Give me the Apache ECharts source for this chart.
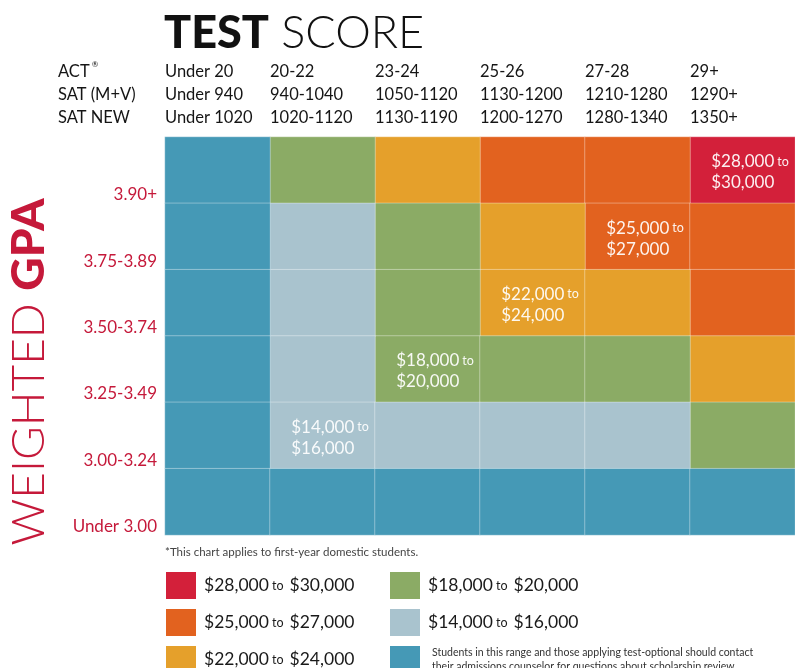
<!DOCTYPE html>
<html><head><meta charset="utf-8">
<script src="https://cdn.jsdelivr.net/npm/echarts@6/dist/echarts.min.js"></script>
<style>html,body{margin:0;padding:0;background:#fff}#c{width:795px;height:668px}</style>
</head><body><div id="c"></div>
<script>
const actScores = ['Under 20','20-22','23-24','25-26','27-28','29+'];
const satMV = ['Under 940','940-1040','1050-1120','1130-1200','1210-1280','1290+'];
const satNew = ['Under 1020','1020-1120','1130-1190','1200-1270','1280-1340','1350+'];
const gpaBands = ['3.90+','3.75-3.89','3.50-3.74','3.25-3.49','3.00-3.24','Under 3.00'];
const tierNames = ['$28,000 to $30,000','$25,000 to $27,000','$22,000 to $24,000','$18,000 to $20,000','$14,000 to $16,000',
  'Students in this range and those applying test-optional should contact their admissions counselor for questions about scholarship review.'];
const tierColors = ['#d3203a','#e2621f','#e5a02b','#8bab65','#a9c3ce','#4599b6'];
// tier index per cell, rows top (3.90+) to bottom, columns left to right
const tierGrid = [
  [5,3,2,1,1,0],
  [5,4,3,2,1,1],
  [5,4,3,2,2,1],
  [5,4,3,3,3,2],
  [5,4,4,4,4,3],
  [5,5,5,5,5,5]
];
const labelCells = [[5,0],[4,1],[3,2],[2,3],[1,4]]; // [col,row]
const footnote = '*This chart applies to first-year domestic students.';

const RED = '#c5193a';
const FONT = 'Lato, "Open Sans", sans-serif';

function isLabeled(c, r){ return labelCells.some(p => p[0]===c && p[1]===r); }

const series = tierNames.map((name, t) => {
  const data = [];
  tierGrid.forEach((row, r) => row.forEach((tier, c) => {
    if (tier === t) {
      const item = {value: [c, r, t]};
      if (isLabeled(c, r)) item.label = {show: true};
      data.push(item);
    }
  }));
  return {
    type: 'heatmap', name, xAxisIndex: 0, yAxisIndex: 0, data,
    itemStyle: {color: tierColors[t], borderColor: 'rgba(255,255,255,0.35)', borderWidth: 1},
    emphasis: {disabled: true},
    label: {
      show: false, position: 'insideTopLeft', distance: 0, offset: [22, 15],
      color: 'rgba(255,255,255,0.93)', fontFamily: FONT, lineHeight: 21,
      formatter: p => {
        const parts = tierNames[p.value[2]].split(' to ');
        return '{a|' + parts[0] + '} {b|to}\n{a|' + parts[1] + '}';
      },
      rich: {a: {fontSize: 17, fontFamily: FONT, color: 'rgba(255,255,255,0.93)', lineHeight: 21},
             b: {fontSize: 12.5, fontFamily: FONT, color: 'rgba(255,255,255,0.93)', lineHeight: 21}}
    }
  };
});

function legendFmt(name){
  if (name.indexOf('Students') === 0) {
    return '{s|Students in this range and those applying test-optional should contact}\n{s|their admissions counselor for questions about scholarship review.}';
  }
  const parts = name.split(' to ');
  return '{a|' + parts[0] + '} {b|to} {a|' + parts[1] + '}';
}
const legendRich = {
  a: {fontSize: 17.5, fontFamily: FONT, color: '#1a1a1a', padding: [0,0,0,3]},
  b: {fontSize: 12.5, fontFamily: FONT, color: '#1a1a1a'},
  s: {fontSize: 10.5, fontFamily: FONT, color: '#333', lineHeight: 14, padding: [0,0,0,7]}
};
const legendBase = {
  orient: 'vertical', icon: 'rect', itemWidth: 30, itemHeight: 27, itemGap: 10,
  top: 572, height: 200, padding: 0, selectedMode: false, formatter: legendFmt,
  itemStyle: {borderWidth: 0},
  textStyle: {rich: legendRich, fontFamily: FONT}
};

const option = {
  animation: false,
  backgroundColor: '#fff',
  grid: {left: 165, top: 137, bottom: 133, right: -7},
  xAxis: [
    {type: 'category', data: actScores, show: false},
    {type: 'value', min: 0, max: 6, interval: 1, position: 'top',
     axisLine: {show: false}, axisTick: {show: false}, splitLine: {show: false},
     axisLabel: {align: 'left', margin: 8, lineHeight: 23, fontSize: 16.5, fontFamily: FONT, color: '#151515',
       showMaxLabel: false,
       formatter: v => v < 6 ? (actScores[v] + '\n' + satMV[v] + '\n' + satNew[v]) : ''}}
  ],
  yAxis: [
    {type: 'category', data: gpaBands, inverse: true, show: false},
    {type: 'value', min: 0, max: 6, interval: 1, position: 'left',
     axisLine: {show: false}, axisTick: {show: false}, splitLine: {show: false},
     axisLabel: {margin: 8, fontSize: 17, fontFamily: FONT, color: RED, verticalAlign: 'bottom',
       lineHeight: 17, padding: [0,0,0,0], showMaxLabel: false,
       formatter: v => v < 6 ? gpaBands[5 - v] : ''}}
  ],
  legend: [
    Object.assign({}, legendBase, {left: 166, data: tierNames.slice(0, 3)}),
    Object.assign({}, legendBase, {left: 390, data: tierNames.slice(3)})
  ],
  graphic: [
    {type: 'text', left: 164, top: 11, style: {
      text: '{b|TEST}{l| SCORE}', fill: '#111',
      rich: {b: {fontSize: 45, fontWeight: 900, fontFamily: FONT, fill: '#111'},
             l: {fontSize: 45, fontWeight: 300, fontFamily: FONT, fill: '#111'}}}},
    {type: 'text', left: 58, top: 60, style: {
      text: '{h|ACT}{r|®}\n{h|SAT (M+V)}\n{h|SAT NEW}',
      rich: {h: {fontSize: 16.5, fontFamily: FONT, fill: '#151515', lineHeight: 23},
             r: {fontSize: 8, fontFamily: FONT, fill: '#151515', lineHeight: 23, verticalAlign: 'top', padding: [0,0,8,2]}}}},
    {type: 'text', x: 29, y: 372, rotation: Math.PI / 2, style: {
      text: '{l|WEIGHTED }{b|GPA}', align: 'center', verticalAlign: 'middle',
      rich: {l: {fontSize: 46, fontWeight: 300, fontFamily: FONT, fill: RED},
             b: {fontSize: 46, fontWeight: 900, fontFamily: FONT, fill: RED}}}},
    {type: 'text', left: 165, top: 546, style: {text: footnote, fontSize: 11.5, fontFamily: FONT, fill: '#444'}}
  ],
  series
};
const chart = echarts.init(document.getElementById('c'), null, {renderer: 'canvas'});
chart.setOption(option);
</script></body></html>
